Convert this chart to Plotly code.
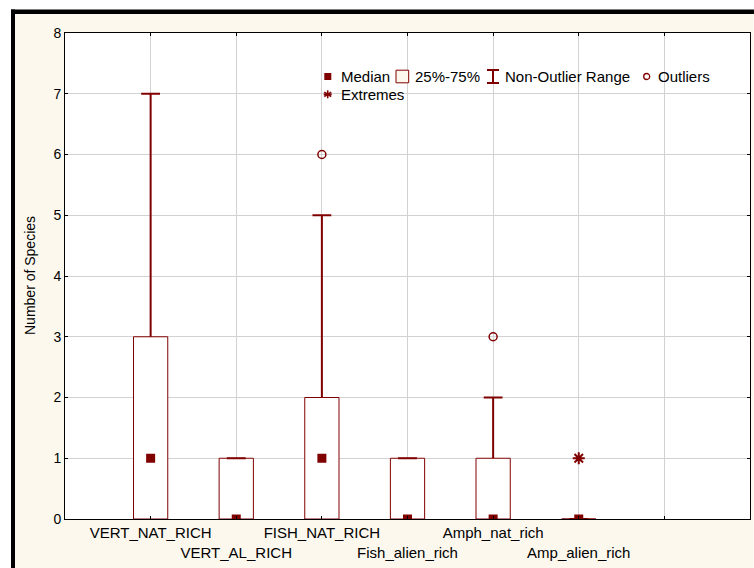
import plotly.graph_objects as go

# ---- data -------------------------------------------------------------
categories = ["VERT_NAT_RICH", "VERT_AL_RICH", "FISH_NAT_RICH",
              "Fish_alien_rich", "Amph_nat_rich", "Amp_alien_rich"]
medians = [1, 0, 1, 0, 0, 0]
q1 = [0, 0, 0, 0, 0, 0]
q3 = [3, 1, 2, 1, 1, 0]
whisker_lo = [0, 0, 0, 0, 0, 0]
whisker_hi = [7, 1, 5, 1, 2, 0]
outlier_cat = ["FISH_NAT_RICH", "Amph_nat_rich"]
outlier_val = [6, 3]
extreme_cat = ["Amp_alien_rich"]
extreme_val = [1]
y_ticks = [0, 1, 2, 3, 4, 5, 6, 7, 8]

# ---- style -------------------------------------------------------------
W, H = 754, 568
ML, MR, MT, MB = 65, 4, 33, 49
PW, PH = W - ML - MR, H - MT - MB
RED = "#800000"
CREAM = "#FDF8EE"
GRID = "#D2D2D2"
FONT = "Liberation Sans, Arial, sans-serif"
BOX_HALF = 0.2
CAP_HALF = 0.11

pos = {c: i + 1 for i, c in enumerate(categories)}
xs = [pos[c] for c in categories]


def px_x(p):
    return (p - ML) / PW


def px_y(p):
    return (MT + PH - p) / PH


# ---- traces -------------------------------------------------------------
bx, by = [], []
for x, a, b in zip(xs, q1, q3):
    bx += [x - BOX_HALF, x + BOX_HALF, x + BOX_HALF, x - BOX_HALF, x - BOX_HALF, None]
    by += [a, a, b, b, a, None]

wx, wy = [], []
for x, lo, a, b, hi in zip(xs, whisker_lo, q1, q3, whisker_hi):
    wx += [x, x, None, x - CAP_HALF, x + CAP_HALF, None]
    wy += [b, hi, None, hi, hi, None]
    if lo < a:
        wx += [x, x, None, x - CAP_HALF, x + CAP_HALF, None]
        wy += [a, lo, None, lo, lo, None]

fig = go.Figure()
fig.add_trace(go.Scatter(x=bx, y=by, mode="lines", fill="toself",
                         fillcolor="white", line=dict(color=RED, width=1),
                         hoverinfo="skip"))
fig.add_trace(go.Scatter(x=wx, y=wy, mode="lines",
                         line=dict(color=RED, width=2), hoverinfo="skip"))
fig.add_trace(go.Scatter(x=xs, y=medians, mode="markers",
                         marker=dict(symbol="square", size=9, color=RED)))
fig.add_trace(go.Scatter(x=[pos[c] for c in outlier_cat], y=outlier_val,
                         mode="markers",
                         marker=dict(symbol="circle-open", size=8, color=RED,
                                     line=dict(width=1.5, color=RED))))
fig.add_trace(go.Scatter(x=[pos[c] for c in extreme_cat], y=extreme_val,
                         mode="markers",
                         marker=dict(symbol="asterisk-open", size=10, color=RED,
                                     line=dict(width=2, color=RED))))

# ---- frame and legend ---------------------------------------------------
shapes = []


def rect(x0, y0, x1, y1, fill, line_color=None, lw=0):
    shapes.append(dict(type="rect", xref="paper", yref="paper",
                       x0=px_x(x0), x1=px_x(x1), y0=px_y(y0), y1=px_y(y1),
                       fillcolor=fill, layer="above",
                       line=dict(color=line_color or fill, width=lw)))


def seg(x0, y0, x1, y1, color, lw):
    shapes.append(dict(type="line", xref="paper", yref="paper",
                       x0=px_x(x0), x1=px_x(x1), y0=px_y(y0), y1=px_y(y1),
                       layer="above", line=dict(color=color, width=lw)))


# white outer margin and the thick black frame
rect(0, 0, W, 9.5, "white")
rect(0, 0, 11, H, "white")
rect(11, 9.5, 15, H, "black")
rect(11, 9.5, W, 14, "black")

# legend symbols
r1, r2 = 76.5, 94.3
rect(324.3, r1 - 3.5, 331.3, r1 + 3.5, RED)
rect(396, r1 - 6.3, 408.7, r1 + 6.3, CREAM, RED, 1)
seg(487, r1 - 6.5, 499, r1 - 6.5, RED, 2)
seg(493, r1 - 6.5, 493, r1 + 6.5, RED, 2)
seg(487, r1 + 6.5, 499, r1 + 6.5, RED, 2)
shapes.append(dict(type="circle", xref="paper", yref="paper",
                   x0=px_x(643.7), x1=px_x(649.7), y0=px_y(r1 - 3), y1=px_y(r1 + 3),
                   fillcolor="white", layer="above", line=dict(color=RED, width=1.3)))
seg(327.7, r2 - 4, 327.7, r2 + 4, RED, 1.6)
seg(324.2, r2 - 2.2, 331.2, r2 + 2.2, RED, 1.6)
seg(324.2, r2 + 2.2, 331.2, r2 - 2.2, RED, 1.6)
seg(323.7, r2, 331.7, r2, RED, 1.6)

annotations = []
for text, x, y in [("Median", 339.5, r1), ("25%-75%", 413.5, r1),
                   ("Non-Outlier Range", 503.5, r1), ("Outliers", 657, r1),
                   ("Extremes", 339.5, r2)]:
    annotations.append(dict(text=text, xref="paper", yref="paper",
                            x=px_x(x), y=px_y(y), xanchor="left", yanchor="middle",
                            showarrow=False, borderpad=0,
                            font=dict(family=FONT, size=15, color="black")))

annotations.append(dict(text="Number of Species", xref="paper", yref="paper",
                        x=px_x(30), y=px_y(276), xanchor="center", yanchor="middle",
                        textangle=-90, showarrow=False,
                        font=dict(family=FONT, size=14, color="black")))

# alternate category labels on two rows
tick_text = [c if i % 2 == 0 else "<br>" + c for i, c in enumerate(categories)] + [""]

fig.update_layout(
    width=W, height=H,
    margin=dict(l=ML, r=MR, t=MT, b=MB, autoexpand=False),
    paper_bgcolor=CREAM, plot_bgcolor="white",
    showlegend=False,
    shapes=shapes, annotations=annotations,
    font=dict(family=FONT, color="black"),
    xaxis=dict(range=[0, 8], tickvals=xs + [7], ticktext=tick_text,
               tickangle=0, automargin=False,
               showgrid=True, gridcolor=GRID, gridwidth=1,
               ticks="inside", ticklen=3, tickcolor="black",
               showline=True, linecolor="black", linewidth=1, mirror="ticks",
               zeroline=False, tickfont=dict(family=FONT, size=15)),
    yaxis=dict(range=[0, 8], tickvals=y_ticks, automargin=False,
               showgrid=True, gridcolor=GRID, gridwidth=1,
               ticks="inside", ticklen=3, tickcolor="black",
               showline=True, linecolor="black", linewidth=1, mirror="ticks",
               zeroline=False, tickfont=dict(family=FONT, size=14)),
)

fig.write_html("out.html")
